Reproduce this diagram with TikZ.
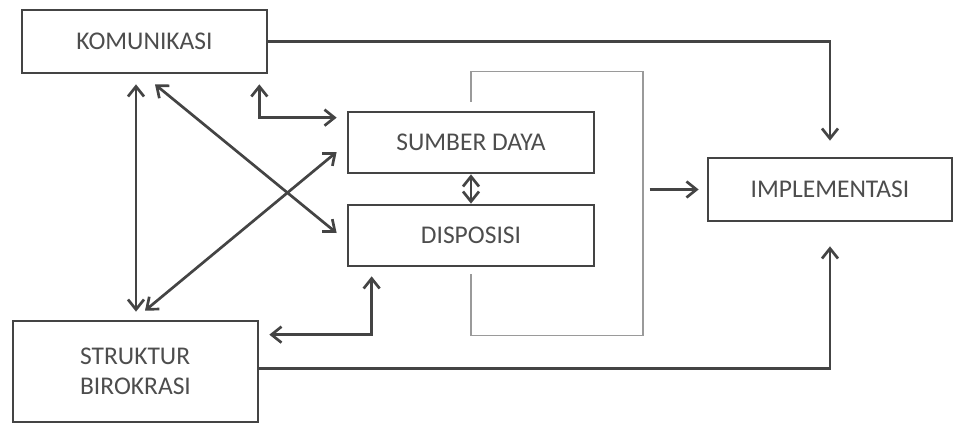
\documentclass[tikz,border=0pt]{standalone}
\usepackage{fontspec}
\setmainfont{Carlito}
\usetikzlibrary{arrows.meta}
\definecolor{boxc}{HTML}{444444}
\definecolor{txtc}{HTML}{4D4D4D}
\definecolor{thinc}{HTML}{9A9A9A}
\begin{document}
\begin{tikzpicture}[x=1pt,y=-1pt,
  box/.style={draw=boxc, line width=2.7pt, text=txtc, font=\fontsize{25.5}{30}\selectfont, inner sep=0pt, align=center},
  arr/.style={draw=boxc, line width=2.7pt, -{Straight Barb[length=10pt,width=16pt]}},
  darr/.style={draw=boxc, line width=2.7pt, {Straight Barb[length=10pt,width=16pt]}-{Straight Barb[length=10pt,width=16pt]}},
  thinline/.style={draw=thinc, line width=1.3pt}]
\useasboundingbox (0,0) rectangle (954,423);
\node[box, minimum width=245pt, minimum height=63pt] (kom) at (144.5,41.5) {KOMUNIKASI};
\node[box, minimum width=246pt, minimum height=61pt] (sd) at (471,142.5) {SUMBER DAYA};
\node[box, minimum width=246pt, minimum height=61pt] (disp) at (471,235.5) {DISPOSISI};
\node[box, minimum width=244pt, minimum height=63pt] (impl) at (830,189.5) {IMPLEMENTASI};
\node[box, minimum width=245pt, minimum height=101pt, align=left] (struk) at (135.5,371.5) {STRUKTUR\\BIROKRASI};

\draw[thinline] ([yshift=9pt]sd.north) -- ++(0,-30) -- ++(172,0) -- ++(0,264) -- ++(-172,0) -- ++(0,-62);

\draw[arr] (kom.east) -| ([yshift=16pt]impl.north);
\draw[arr] ([yshift=3pt]struk.east) -| ([yshift=-24pt]impl.south);
\draw[arr] ([xshift=-57pt]impl.west) -- ([xshift=-8pt]impl.west);
\draw[darr] ([xshift=-8.5pt,yshift=-10pt]kom.south) -- ([xshift=0.5pt,yshift=8pt]struk.north);
\draw[darr] ([xshift=10.5pt,yshift=-10pt]kom.south) -- ([shift={(-10pt,2.5pt)}]disp.west);
\draw[darr] ([shift={(9.5pt,9pt)}]struk.north) -- ([shift={(-10pt,-9.5pt)}]sd.west);
\draw[darr] ([shift={(-9pt,-10pt)}]kom.south east) |- ([shift={(-10pt,-7pt)}]sd.north west);
\draw[darr] ([shift={(10pt,-15pt)}]struk.north east) -| ([shift={(25pt,-9pt)}]disp.south west);
\draw[darr] (sd.south) -- (disp.north);
\end{tikzpicture}
\end{document}
